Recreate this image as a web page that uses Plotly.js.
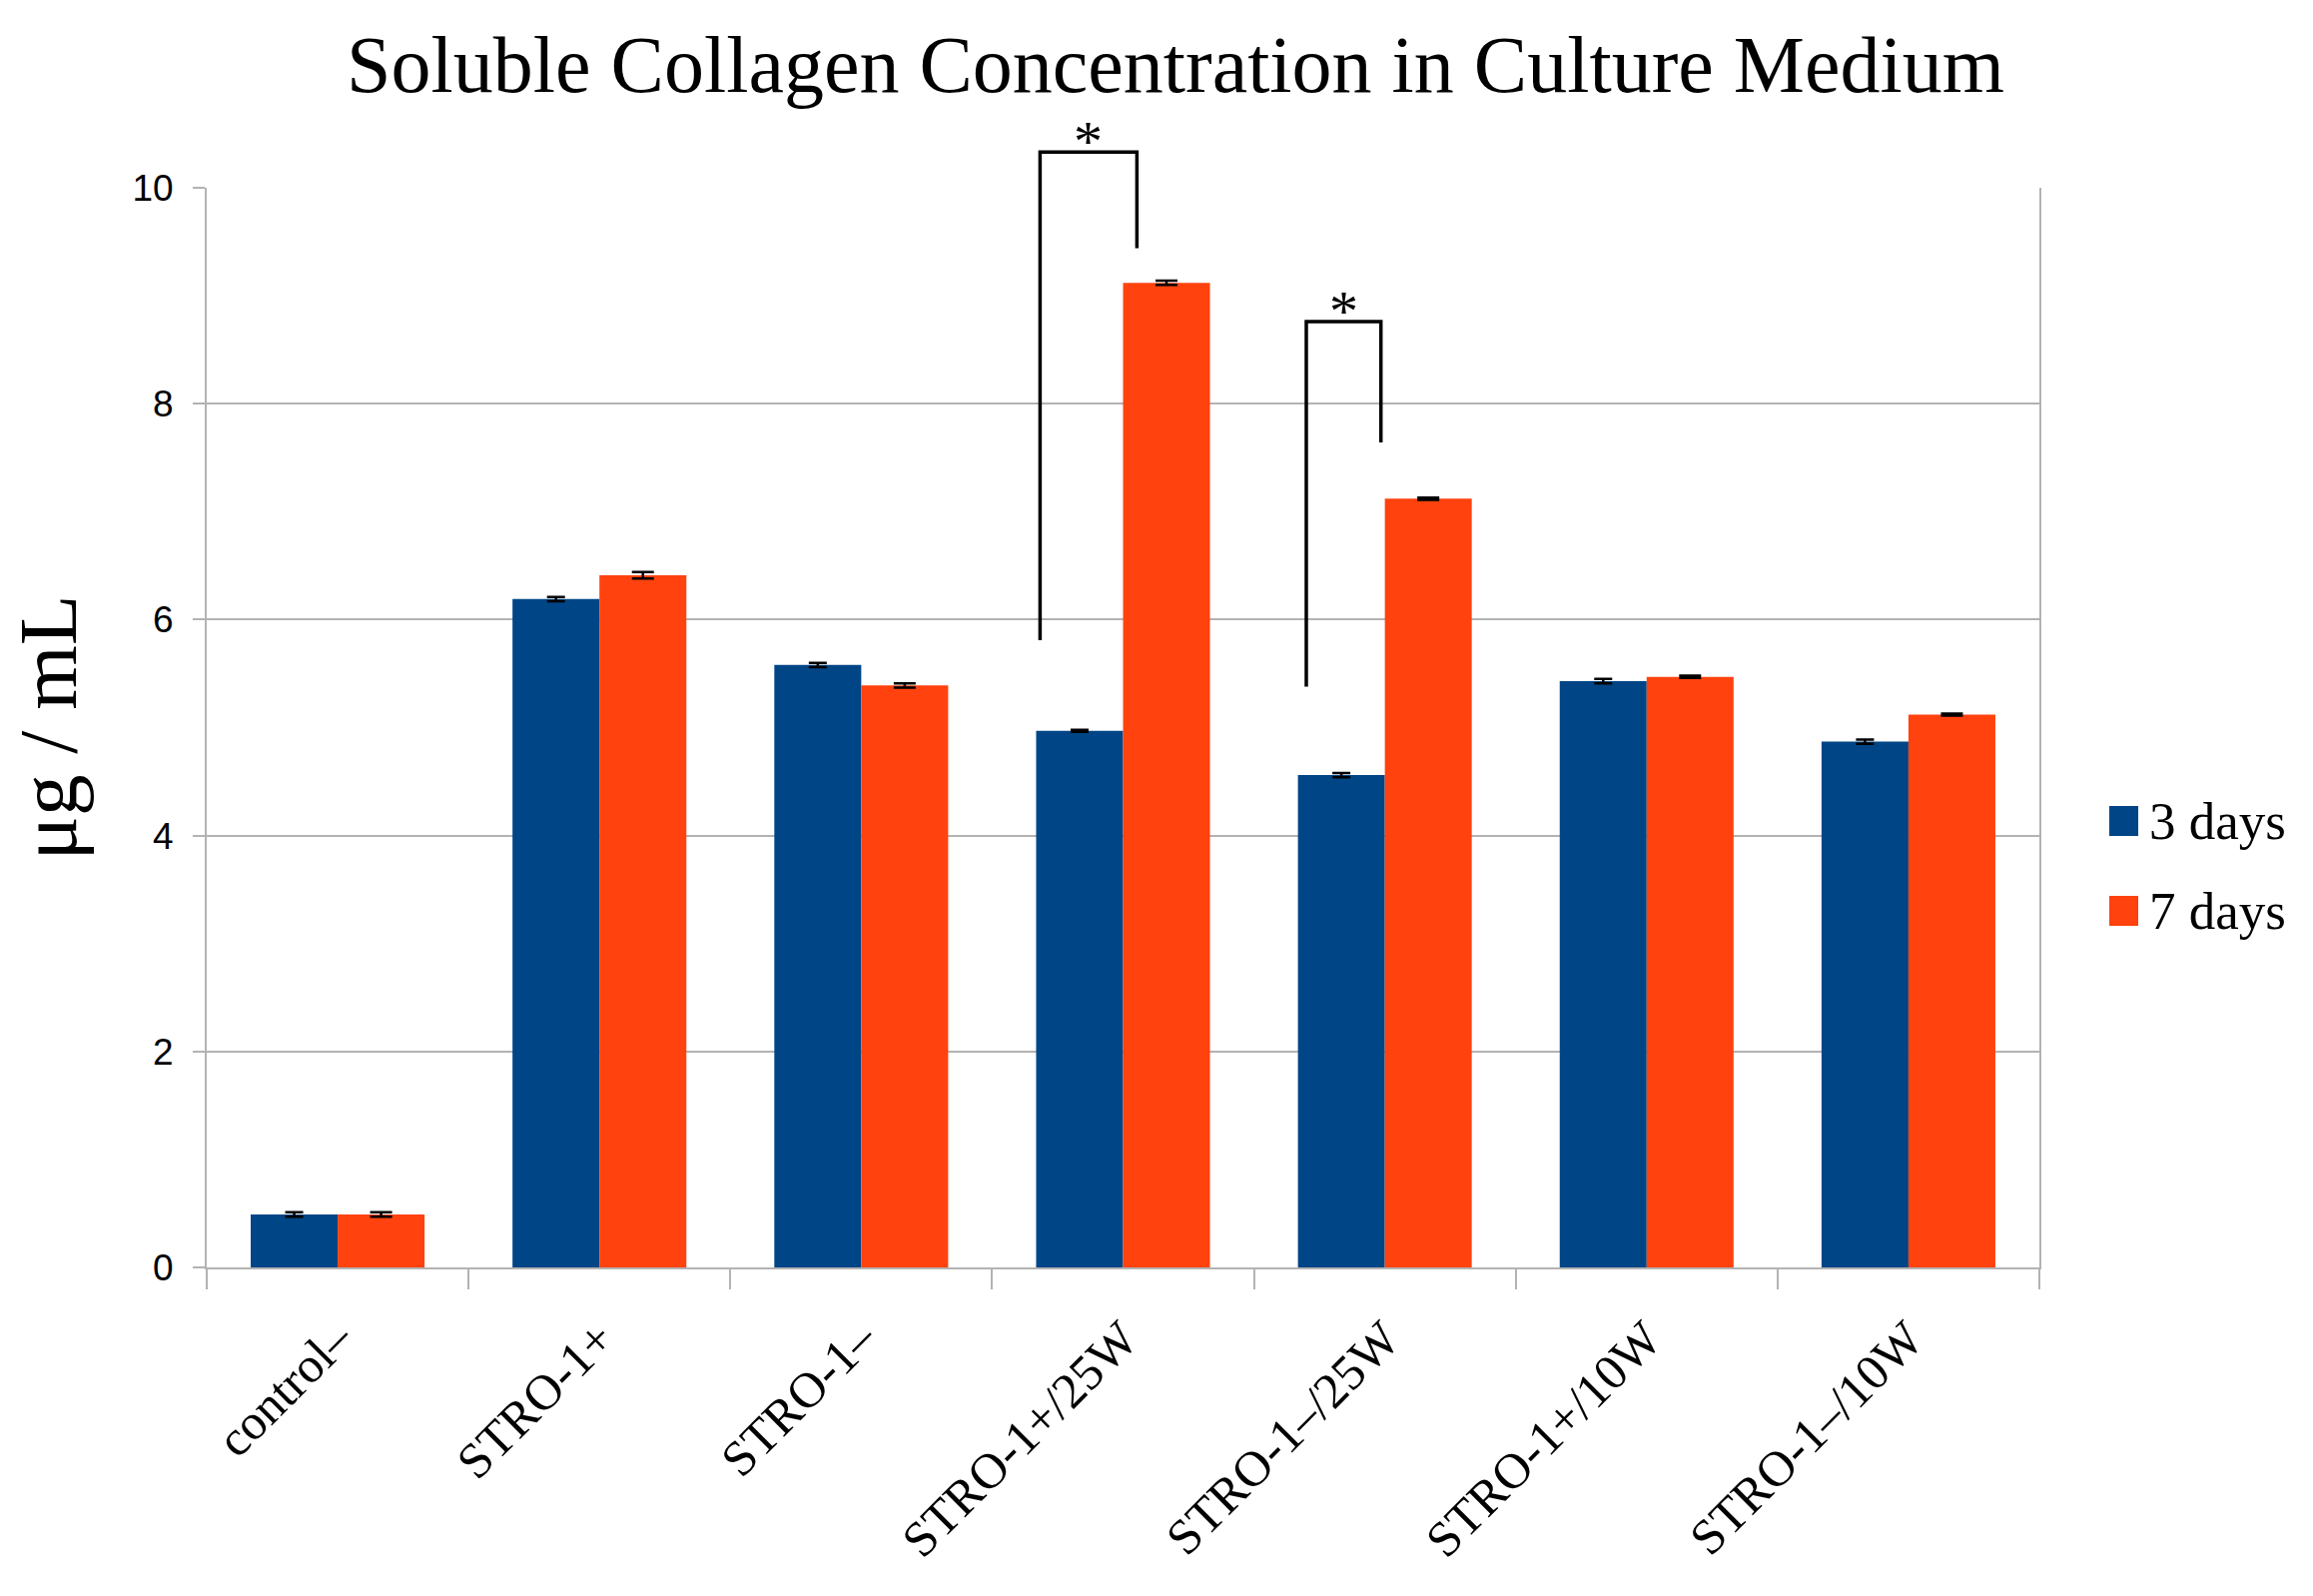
<!DOCTYPE html>
<html>
<head>
<meta charset="utf-8">
<script src="https://cdn.plot.ly/plotly-3.0.1.min.js"></script>
<style>html,body{margin:0;padding:0;background:#fff;}#chart{width:2316px;height:1598px;}</style>
</head>
<body>
<div id="chart"></div>
<script>
// ---- data ----
const categories = ["control\u2013", "STRO-1+", "STRO-1\u2013", "STRO-1+/25W", "STRO-1\u2013/25W", "STRO-1+/10W", "STRO-1\u2013/10W"];
const days3 = [0.49, 6.19, 5.58, 4.97, 4.56, 5.43, 4.87];
const days7 = [0.49, 6.41, 5.39, 9.12, 7.12, 5.47, 5.12];
const err3 = [0.02, 0.02, 0.02, 0.01, 0.02, 0.02, 0.02];
const err7 = [0.02, 0.03, 0.02, 0.02, 0.01, 0.01, 0.01];
const seriesNames = ["3 days", "7 days"];
const yTicks = [0, 2, 4, 6, 8, 10];
// significance brackets (category units / data units)
const bracketLeftX = [2.683, 3.70];
const bracketRightX = [3.053, 3.985];
const bracketTopY = [10.33, 8.76];
const bracketLeftBottomY = [5.81, 5.38];
const bracketRightBottomY = [9.44, 7.64];
const starLabel = "*";

// ---- styling ----
const blue = "#004586", orange = "#ff420e", grid = "#b3b3b3";
const W = 2316, H = 1598;
const M = {l: 207, r: 274, t: 188, b: 329};
const PW = W - M.l - M.r, PH = H - M.t - M.b;
const nCat = categories.length;
const yMax = 10;
const catToPaper = c => (c + 0.5) / nCat;
const valToPaper = v => v / yMax;
const pxX = px => (px - M.l) / PW;
const pxY = py => (H - M.b - py) / PH;

const traces = [
  {type: "bar", name: seriesNames[0], x: categories, y: days3, marker: {color: blue},
   error_y: {type: "data", array: err3, visible: true, color: "#000", thickness: 2.5, width: 9}},
  {type: "bar", name: seriesNames[1], x: categories, y: days7, marker: {color: orange},
   error_y: {type: "data", array: err7, visible: true, color: "#000", thickness: 2.5, width: 11}}
];

const shapes = [];
const annotations = [];
for (let i = 0; i < bracketLeftX.length; i++) {
  const xl = catToPaper(bracketLeftX[i]), xr = catToPaper(bracketRightX[i]);
  const yt = valToPaper(bracketTopY[i]);
  const line = {color: "#000", width: 3.5};
  shapes.push({type: "path", xref: "paper", yref: "paper",
    path: `M${xl},${valToPaper(bracketLeftBottomY[i])} L${xl},${yt} L${xr},${yt} L${xr},${valToPaper(bracketRightBottomY[i])}`,
    line: line});
  annotations.push({xref: "paper", yref: "paper", x: (xl + xr) / 2, y: yt, yanchor: "bottom", yshift: -24,
    text: starLabel, showarrow: false, font: {family: "Liberation Serif", size: 58, color: "#000"}});
}
// legend (manual, square swatches)
const legendColors = [blue, orange];
const legendTop = [807, 897];
for (let i = 0; i < seriesNames.length; i++) {
  shapes.push({type: "rect", xref: "paper", yref: "paper",
    x0: pxX(2112), x1: pxX(2141), y0: pxY(legendTop[i]), y1: pxY(legendTop[i] + 30),
    fillcolor: legendColors[i], line: {width: 0}});
  annotations.push({xref: "paper", yref: "paper", x: pxX(2150), y: pxY(legendTop[i] + 15),
    xanchor: "left", yanchor: "middle", text: seriesNames[i], showarrow: false,
    font: {family: "Liberation Serif", size: 53, color: "#000"}});
}

const layout = {
  width: W, height: H,
  margin: M,
  paper_bgcolor: "#fff", plot_bgcolor: "#fff",
  showlegend: false,
  barmode: "group", bargap: 0.336, bargroupgap: 0,
  title: {text: "Soluble Collagen Concentration in Culture Medium",
    font: {family: "Liberation Serif", size: 80, color: "#000"},
    x: 1177 / W, xanchor: "center", y: 1 - 64 / H, yanchor: "middle"},
  xaxis: {
    type: "category", range: [-0.5, nCat - 0.5],
    tickangle: -45, tickson: "boundaries", ticks: "outside", ticklen: 20, tickwidth: 2, tickcolor: grid,
    tickfont: {family: "Liberation Serif", size: 50, color: "#000"},
    ticklabelstandoff: 20,
    showline: true, linecolor: grid, linewidth: 2, mirror: false,
    showgrid: false, zeroline: false, automargin: false
  },
  yaxis: {
    range: [0, yMax], tickvals: yTicks, ticktext: yTicks.map(String),
    ticks: "outside", ticklen: 12, tickwidth: 2, tickcolor: grid,
    tickfont: {family: "Liberation Sans", size: 37, color: "#000"},
    ticklabelstandoff: 12,
    showline: true, linecolor: grid, linewidth: 2, mirror: true,
    showgrid: true, gridcolor: grid, gridwidth: 2, zeroline: false,
    title: {text: "\u03bcg / mL", font: {family: "Liberation Serif", size: 83, color: "#000"}, standoff: 28},
    automargin: false
  },
  shapes: shapes,
  annotations: annotations
};

Plotly.newPlot("chart", traces, layout, {displayModeBar: false, staticPlot: true});
</script>
</body>
</html>
